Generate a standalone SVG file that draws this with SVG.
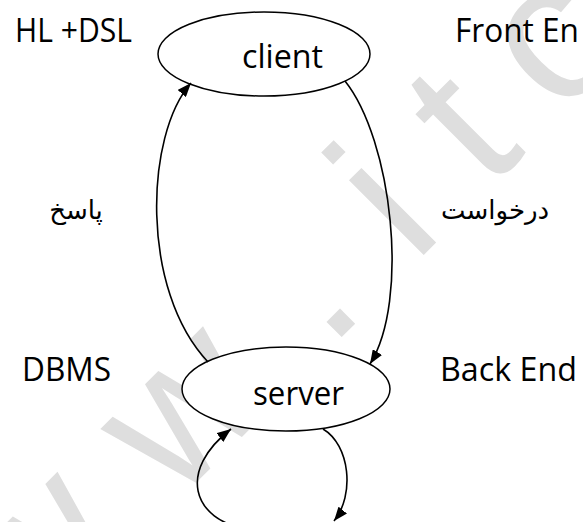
<svg xmlns="http://www.w3.org/2000/svg" width="583" height="522" viewBox="0 0 583 522">
  <style>
    .lbl { font-family: "Open Sans", "Liberation Sans", sans-serif; font-size: 32px; fill: #000; }
    .fa { font-family: "DejaVu Sans", sans-serif; font-size: 26px; fill: #000; }
    .node { fill: #fff; stroke: #000; stroke-width: 1.5; }
    .edge { fill: none; stroke: #000; stroke-width: 1.6; marker-end: url(#arrow); }
    .wm { font-family: "Liberation Sans", sans-serif; font-size: 200px; fill: #dedede; }
  </style>
  <defs>
    <marker id="arrow" markerUnits="userSpaceOnUse" viewBox="0 0 14 11" refX="14" refY="5.5" markerWidth="14" markerHeight="11" orient="auto">
      <path d="M0,0 L14,5.5 L0,11 z" fill="#000"/>
    </marker>
  </defs>

  <rect width="583" height="522" fill="#fff"/>

  <!-- faint diagonal watermark behind the drawing -->
  <text class="wm" transform="rotate(-45)" x="-438 -232 -15 106 210 312" y="480">ww.itc</text>

  <!-- side labels -->
  <text class="lbl" x="15" y="42" textLength="117" lengthAdjust="spacingAndGlyphs">HL +DSL</text>
  <text class="lbl" x="455" y="42" textLength="124" lengthAdjust="spacingAndGlyphs">Front En</text>
  <text class="lbl" x="22" y="381" textLength="89" lengthAdjust="spacingAndGlyphs">DBMS</text>
  <text class="lbl" x="440" y="381" textLength="137" lengthAdjust="spacingAndGlyphs">Back End</text>
  <text class="fa" x="76" y="219" text-anchor="middle" direction="rtl">پاسخ</text>
  <text class="fa" x="495" y="219" text-anchor="middle" direction="rtl">درخواست</text>

  <g id="client">
    <ellipse class="node" cx="264" cy="54" rx="106" ry="42"/>
    <text class="lbl" x="242" y="68" textLength="81" lengthAdjust="spacingAndGlyphs">client</text>
  </g>

  <g id="server">
    <ellipse class="node" cx="286" cy="389" rx="104" ry="42"/>
    <text class="lbl" x="253" y="405" textLength="91" lengthAdjust="spacingAndGlyphs">server</text>
  </g>

  <g id="connectors">
    <!-- response: server back up to client -->
    <path class="edge" d="M208,362 C140,290 145,135 191,83"/>
    <!-- request: client down to server -->
    <path class="edge" d="M345,81 C392,140 410,300 370,364"/>
    <!-- loop leaving the bottom of server -->
    <path class="edge" d="M323,429 C350,445 355,495 334,521"/>
    <!-- loop returning into server -->
    <path class="edge" d="M250,530 C190,520 178,470 231,429"/>
  </g>
</svg>
